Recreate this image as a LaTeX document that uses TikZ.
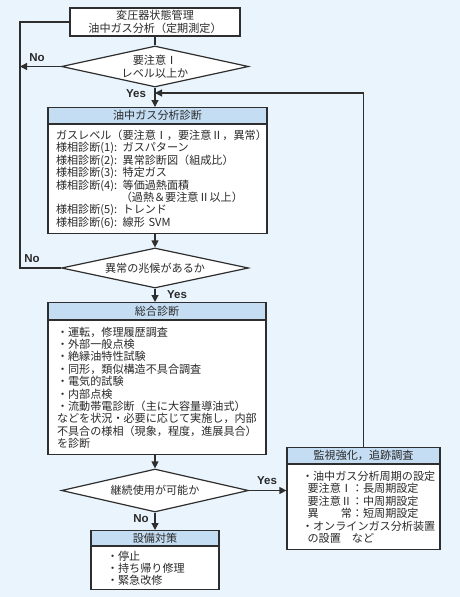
\documentclass[tikz,border=0pt]{standalone}
\usepackage{fontspec}
\newfontfamily\jp{Noto Sans CJK JP}
\newfontfamily\lat{Liberation Sans}
\usetikzlibrary{arrows.meta}
\usetikzlibrary{positioning}
\usetikzlibrary{shapes.geometric}
\definecolor{bgblue}{HTML}{EAF4FC}
\definecolor{headblue}{HTML}{C4DDF3}
\definecolor{linegray}{HTML}{2E2E2E}
\definecolor{textgray}{HTML}{2A2A2A}

\begin{document}
\begin{tikzpicture}[
			x=1pt, y=-1pt,
			box/.style={draw=linegray, line width=1.2pt, fill=white, inner sep=0pt, text=textgray,
					font=\jp\fontsize{11.1}{12.4}\selectfont},
			head/.style={box, fill=headblue, anchor=north},
			body/.style={box, anchor=north, align=left},
			decide/.style={box, diamond, aspect=4.5, align=center,
					font=\jp\fontsize{11.1}{13}\selectfont},
			flow/.style={draw=linegray, line width=1.2pt, -{Triangle[length=7pt,width=7pt]}},
			link/.style={draw=linegray, line width=1.2pt},
			yesno/.style={font=\lat\bfseries\fontsize{11.5}{12}\selectfont, text=textgray, inner sep=0pt}
		]

		% --- Background ---
		\fill[bgblue] (0,0) rectangle (460,597);
		\useasboundingbox (0,0) rectangle (460,597);

		% --- Main column ---
		\node[box, minimum width=170pt, minimum height=28pt, align=center,
			font=\jp\fontsize{11.1}{13}\selectfont] (top) at (155,22)
		{変圧器状態管理\\油中ガス分析（定期測定）};

		\node[decide, minimum width=187pt, minimum height=41pt] (d1) at (155,66.5)
		{要注意Ⅰ\\レベル以上か};

		\node[head, minimum width=219pt, minimum height=16pt] (gasH) at (157.5,107) {油中ガス分析診断};
		\node[body, below=0pt of gasH, minimum width=219pt, minimum height=109pt,
			text width=203pt, inner xsep=8pt] (gasB)
		{ガスレベル（要注意Ⅰ，要注意Ⅱ，異常）\\
			様相診断(1): ガスパターン\\
			様相診断(2): 異常診断図（組成比）\\
			様相診断(3): 特定ガス\\
			様相診断(4): 等価過熱面積\\
			\hphantom{様相診断(4):\ }（過熱＆要注意Ⅱ以上）\\
			様相診断(5): トレンド\\
			様相診断(6): 線形 SVM};

		\node[decide, minimum width=187pt, minimum height=40pt] (d2) at (155,268)
		{異常の兆候があるか};

		\node[head, minimum width=218pt, minimum height=17pt] (sogoH) at (157,302) {総合診断};
		\node[body, below=0pt of sogoH, minimum width=218pt, minimum height=134pt,
			text width=200pt, inner xsep=9pt] (sogoB)
		{・運転，修理履歴調査\\
			・外部一般点検\\
			・絶縁油特性試験\\
			・同形，類似構造不具合調査\\
			・電気的試験\\
			・内部点検\\
			・流動帯電診断（主に大容量導油式）\\
			などを状況・必要に応じて実施し，内部\\
			不具合の様相（現象，程度，進展具合）\\
			を診断};

		\node[decide, minimum width=187pt, minimum height=43pt] (d3) at (155,490.5)
		{継続使用が可能か};

		\node[head, minimum width=128pt, minimum height=15pt] (taisakuH) at (155,530) {設備対策};
		\node[body, below=0pt of taisakuH, minimum width=128pt, minimum height=43pt,
			text width=96pt, inner xsep=16pt] (taisakuB)
		{・停止\\
			・持ち帰り修理\\
			・緊急改修};

		% --- Monitoring box on the right ---
		\node[head, minimum width=153pt, minimum height=16pt] (kanshiH) at (363.5,447) {監視強化，追跡調査};
		\node[body, below=0pt of kanshiH, minimum width=153pt, minimum height=85pt,
			text width=123pt, inner xsep=15pt] (kanshiB)
		{・油中ガス分析周期の設定\\
			\hspace*{0.5em}要注意Ⅰ：長周期設定\\
			\hspace*{0.5em}要注意Ⅱ：中周期設定\\
			\hspace*{0.5em}異　　常：短周期設定\\
			・オンラインガス分析装置\\
			\hspace*{0.5em}の設置　など};

		% --- Connectors ---
		\coordinate (loopL) at (20,22);
		\coordinate (merge) at (155,93);

		\draw[link] (top.south) -- (top.south |- d1.north);
		\draw[flow] (d1.south) -- (d1.south |- gasH.north);
		\draw[flow] (d1.west) -- (d1.west -| loopL);
		\draw[link] (d2.west) -| (loopL) -- (loopL -| top.west);
		\draw[flow] (d2.north |- gasB.south) -- (d2.north);
		\draw[flow] (d2.south) -- (d2.south |- sogoH.north);
		\draw[flow] (d3.north |- sogoB.south) -- (d3.north);
		\draw[flow] (d3.south) -- (d3.south |- taisakuH.north);
		\draw[flow] (d3.east) -- (d3.east -| kanshiB.west);
		\draw[flow] (kanshiH.north) |- (merge);

		% --- Yes / No labels ---
		\node[yesno] (no1) at (37,58) {No};
		\node[yesno] (yes1) at (136,94) {Yes};
		\node[yesno] (no2) at (32,259) {No};
		\node[yesno] (yes2) at (177,295) {Yes};
		\node[yesno] (yes3) at (267,481) {Yes};
		\node[yesno] (no3) at (141,519) {No};

	\end{tikzpicture}
\end{document}
